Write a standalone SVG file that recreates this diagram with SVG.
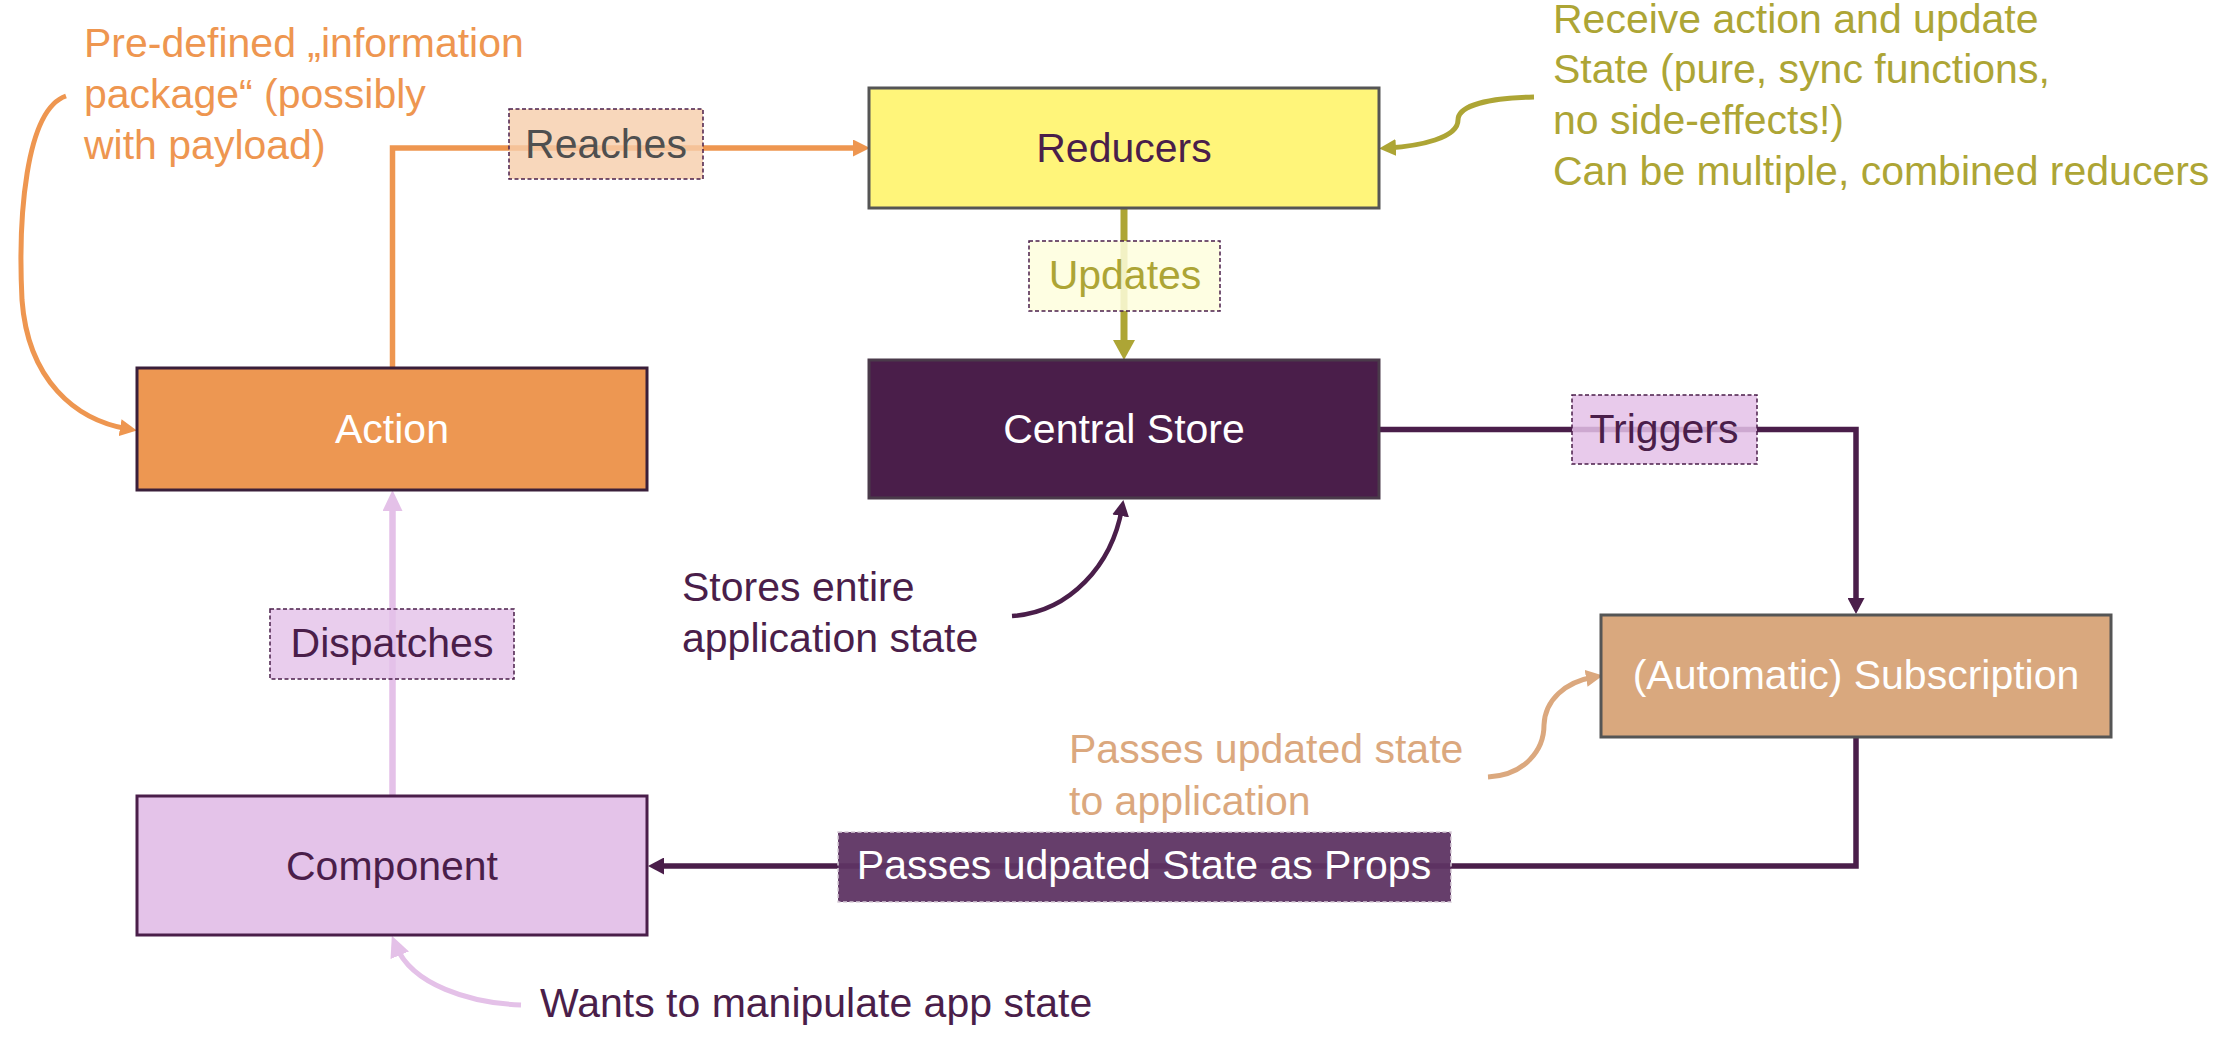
<svg xmlns="http://www.w3.org/2000/svg" width="2220" height="1038" viewBox="0 0 2220 1038">
<style>
text{font-family:"Liberation Sans",Arial,sans-serif;font-size:41px}
.node rect{stroke-width:3}
.mid{text-anchor:middle}
.lbl rect{stroke:#4A1E4A;stroke-width:1.5;stroke-dasharray:4 2.5}
.conn path{fill:none}
</style>
<defs>
<marker id="m-orange" viewBox="0 0 17 17" refX="8" refY="8.5" markerWidth="17" markerHeight="17" markerUnits="userSpaceOnUse" orient="auto"><path d="M0,0 L17,8.5 L0,17 z" fill="#EE9650"/></marker>
<marker id="m-olive" viewBox="0 0 20 22" refX="10" refY="11" markerWidth="20" markerHeight="22" markerUnits="userSpaceOnUse" orient="auto"><path d="M0,0 L20,11 L0,22 z" fill="#ADA535"/></marker>
<marker id="m-olive-s" viewBox="0 0 17 17" refX="8" refY="8.5" markerWidth="17" markerHeight="17" markerUnits="userSpaceOnUse" orient="auto"><path d="M0,0 L17,8.5 L0,17 z" fill="#ADA535"/></marker>
<marker id="m-purple" viewBox="0 0 16 17" refX="8" refY="8.5" markerWidth="16" markerHeight="17" markerUnits="userSpaceOnUse" orient="auto"><path d="M0,0 L16,8.5 L0,17 z" fill="#4A1E4A"/></marker>
<marker id="m-lilac" viewBox="0 0 21 20" refX="10" refY="10" markerWidth="21" markerHeight="20" markerUnits="userSpaceOnUse" orient="auto"><path d="M0,0 L21,10 L0,20 z" fill="#E4C1E8"/></marker>
<marker id="m-tan" viewBox="0 0 17 17" refX="8" refY="8.5" markerWidth="17" markerHeight="17" markerUnits="userSpaceOnUse" orient="auto"><path d="M0,0 L17,8.5 L0,17 z" fill="#DBA87E"/></marker>
</defs>

<g id="connectors" class="conn">
<path d="M392.5 368 V148 H861" stroke="#EE9650" stroke-width="5.5" marker-end="url(#m-orange)"/>
<path d="M1124 209 V350" stroke="#ADA535" stroke-width="7" marker-end="url(#m-olive)"/>
<path d="M1379 429.5 H1856 V606" stroke="#4A1E4A" stroke-width="5.5" marker-end="url(#m-purple)"/>
<path d="M1856 737 V866 H656" stroke="#4A1E4A" stroke-width="5.5" marker-end="url(#m-purple)"/>
<path d="M392.5 796 V501" stroke="#E4C1E8" stroke-width="6.5" marker-end="url(#m-lilac)"/>
<path d="M66 96 C25 110,18 220,22 300 C28 380,75 420,128 429" stroke="#EE9650" stroke-width="5" marker-end="url(#m-orange)"/>
<path d="M1534 97 C1490 98,1458 105,1458 120 C1458 138,1420 146,1388 148" stroke="#ADA535" stroke-width="5" marker-end="url(#m-olive-s)"/>
<path d="M1012 616 C1070 612,1112 565,1122 508" stroke="#4A1E4A" stroke-width="4.5" marker-end="url(#m-purple)"/>
<path d="M1488 777 C1525 775,1544 750,1544 725 C1545 700,1565 682,1594 677" stroke="#DBA87E" stroke-width="5" marker-end="url(#m-tan)"/>
<path d="M521 1005 C470 1003,412 985,396 946" stroke="#E4C1E8" stroke-width="5" marker-end="url(#m-lilac)"/>
</g>

<g id="label-reaches" class="lbl"><rect x="509" y="109" width="194" height="70" fill="#F6CDAA" fill-opacity="0.8"/><text x="606" y="158" class="mid" fill="#4F4F4F">Reaches</text></g>
<g id="label-updates" class="lbl"><rect x="1029" y="241" width="191" height="70" fill="#FEFEDD" fill-opacity="0.85"/><text x="1125" y="289" class="mid" fill="#ADA535">Updates</text></g>
<g id="label-triggers" class="lbl"><rect x="1572" y="395" width="185" height="69" fill="#E4C1E8" fill-opacity="0.85"/><text x="1664" y="443" class="mid" fill="#4A1E4A">Triggers</text></g>
<g id="label-dispatches" class="lbl"><rect x="270" y="609" width="244" height="70" fill="#E4C1E8" fill-opacity="0.8"/><text x="392" y="657" class="mid" fill="#4A1E4A">Dispatches</text></g>
<g id="label-props"><rect x="838" y="832" width="613" height="70" fill="#5E3463" fill-opacity="0.95" stroke="#D8CCD8" stroke-width="1.5" stroke-dasharray="4 2.5"/><text x="1144" y="879" class="mid" fill="#FFFFFF">Passes udpated State as Props</text></g>

<g id="node-action" class="node"><rect x="137" y="368" width="510" height="122" fill="#ED9752" stroke="#3A1F3A"/><text x="392" y="443" class="mid" fill="#FFFFFF">Action</text></g>
<g id="node-reducers" class="node"><rect x="869" y="88" width="510" height="120" fill="#FFF57A" stroke="#555555"/><text x="1124" y="162" class="mid" fill="#4A1E4A">Reducers</text></g>
<g id="node-store" class="node"><rect x="869" y="360" width="510" height="138" fill="#4A1E4A" stroke="#4A3A4A"/><text x="1124" y="443" class="mid" fill="#FFFFFF">Central Store</text></g>
<g id="node-subscription" class="node"><rect x="1601" y="615" width="510" height="122" fill="#D9A87E" stroke="#555555"/><text x="1856" y="689" class="mid" fill="#FFFFFF">(Automatic) Subscription</text></g>
<g id="node-component" class="node"><rect x="137" y="796" width="510" height="139" fill="#E4C3E9" stroke="#4A1E4A"/><text x="392" y="880" class="mid" fill="#4A1E4A">Component</text></g>

<g id="note-action" fill="#EE9650"><text x="84" y="57">Pre-defined „information</text><text x="84" y="108">package“ (possibly</text><text x="84" y="159">with payload)</text></g>
<g id="note-reducers" fill="#ADA535"><text x="1553" y="33">Receive action and update</text><text x="1553" y="83">State (pure, sync functions,</text><text x="1553" y="134">no side-effects!)</text><text x="1553" y="185">Can be multiple, combined reducers</text></g>
<g id="note-store" fill="#4A1E4A"><text x="682" y="601">Stores entire</text><text x="682" y="652">application state</text></g>
<g id="note-subscription" fill="#DBA87E"><text x="1069" y="763">Passes updated state</text><text x="1069" y="815">to application</text></g>
<g id="note-component" fill="#4A1E4A"><text x="540" y="1017">Wants to manipulate app state</text></g>
</svg>
